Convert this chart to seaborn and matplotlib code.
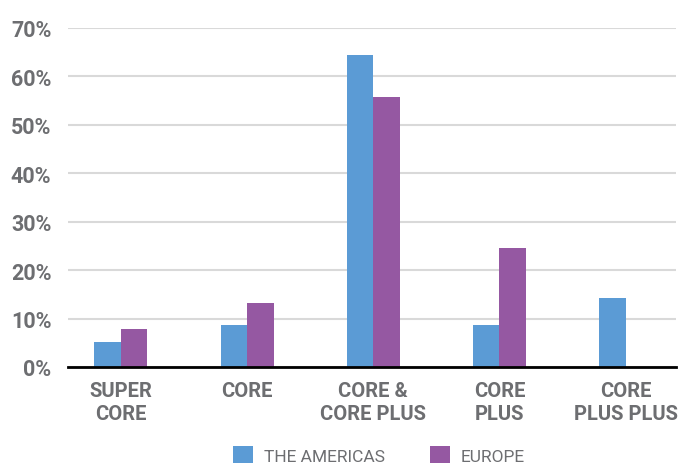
import pandas as pd
import matplotlib
matplotlib.use("Agg")
import matplotlib.pyplot as plt
import seaborn as sns
from matplotlib.patches import Patch
from matplotlib.ticker import PercentFormatter

# Chart data
categories = ["SUPER\nCORE", "CORE", "CORE &\nCORE PLUS", "CORE\nPLUS", "CORE\nPLUS PLUS"]
americas = [5.2, 8.7, 64.4, 8.7, 14.3]
europe = [7.8, 13.2, 55.7, 24.6, 0.0]
series = ["THE AMERICAS", "EUROPE"]
colors = ["#5b9bd5", "#9558a2"]

df = pd.DataFrame({
    "Category": categories * 2,
    "Region": [series[0]] * 5 + [series[1]] * 5,
    "Share": americas + europe,
})

sns.set_style("white")
plt.rcParams["font.family"] = ["Roboto", "DejaVu Sans"]
grey = "#6d6e71"

fig = plt.figure(figsize=(6.89, 4.64), dpi=100)
ax = fig.add_axes([68 / 689, 1 - 368 / 464, (676 - 68) / 689, (368 - 29) / 464])

sns.barplot(
    data=df,
    x="Category",
    y="Share",
    hue="Region",
    hue_order=series,
    palette=colors,
    width=0.42,
    saturation=1,
    linewidth=0,
    ax=ax,
    legend=False,
)

ax.set_ylim(0, 70)
ax.set_xlim(-0.42, 4.4)
ax.set_yticks(range(0, 71, 10))
ax.yaxis.set_major_formatter(PercentFormatter(decimals=0))
ax.grid(axis="y", color="#d9d9d9", linewidth=1.5)
ax.set_axisbelow(True)
for s in ["top", "right", "left"]:
    ax.spines[s].set_visible(False)
ax.spines["bottom"].set_color("black")
ax.spines["bottom"].set_linewidth(2)
ax.tick_params(axis="both", length=0, colors=grey)
ax.tick_params(axis="y", pad=12, labelsize=15.5)
ax.tick_params(axis="x", pad=10, labelsize=14.5)
for lab in ax.get_xticklabels() + ax.get_yticklabels():
    lab.set_fontweight("bold")
    lab.set_color(grey)
for lab in ax.get_xticklabels():
    lab.set_linespacing(1.3)
ax.set_xlabel("")
ax.set_ylabel("")

handles = [Patch(facecolor=c, edgecolor="none") for c in colors]
fig.legend(
    handles,
    series,
    loc="lower center",
    bbox_to_anchor=(0.55, -0.035),
    ncol=2,
    frameon=False,
    fontsize=12.5,
    labelcolor=grey,
    handlelength=1.15,
    handleheight=1.15,
    columnspacing=2.6,
    handletextpad=0.6,
)

fig.savefig("out.png", dpi=100)
